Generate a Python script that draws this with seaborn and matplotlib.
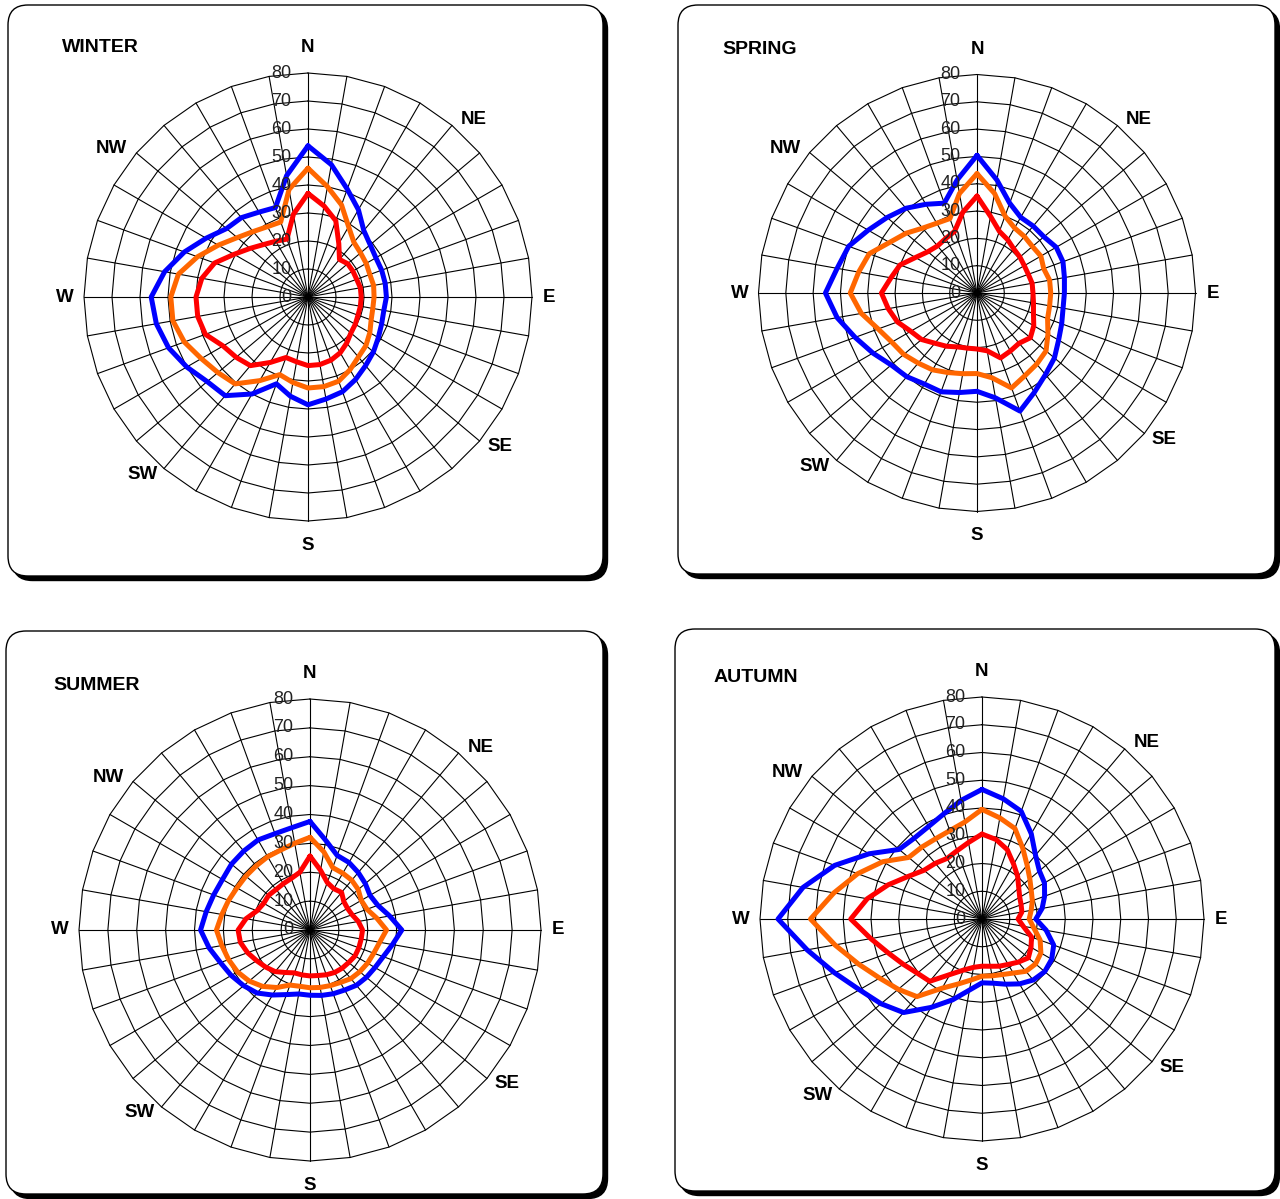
import numpy as np
import pandas as pd
import matplotlib
matplotlib.use("Agg")
import matplotlib.pyplot as plt
import matplotlib.transforms as mtransforms
from matplotlib.patches import FancyBboxPatch
import seaborn as sns

# directions every 10 degrees, clockwise from north
directions = np.arange(0, 360, 10)

# winter
winter_blue = [54, 48, 41, 36, 31, 29, 28, 28, 28, 28, 27.5, 28, 29, 30.5, 32, 34, 36, 37,
               38.5, 36, 33, 40, 46, 47, 50, 53, 55, 56, 52, 47, 42, 38, 37, 35, 34, 44]
winter_orange = [46, 40, 35, 29, 25.5, 24.5, 24, 23.5, 23.8, 23.6, 23.5, 24, 25.5, 27, 28, 30, 32, 32.5,
                 32.5, 31, 29.5, 34.5, 40.5, 42, 44, 47, 49, 49, 47, 42, 37, 33, 30.5, 29, 28.5, 39]
winter_red = [37, 33, 29, 22, 17.5, 18.5, 18.5, 18.5, 19, 19, 19, 19, 19.5, 20, 21.5, 23, 24, 24.5,
              24.5, 23.5, 23, 27, 32, 33.5, 35, 39, 40, 40, 38.5, 35.5, 30.5, 27, 24.5, 23, 22, 30]

# spring
spring_blue = [50.4, 42, 35, 32, 32, 32, 33.5, 33.5, 32.5, 32, 32, 33, 34.5, 37, 39, 42, 46, 39,
               36, 37, 38.5, 38.5, 40, 41, 44, 47.5, 52, 55.5, 52, 50, 46, 43, 40.5, 37.5, 35, 42]
spring_orange = [43.7, 37, 30, 27.5, 27, 26.5, 27, 26, 27, 27, 27, 27.5, 30, 33, 34, 35, 37, 31.5,
                 29.5, 30, 31, 32.5, 33.5, 35, 36, 38.5, 43, 46.4, 44, 42, 37, 34, 31, 29.5, 29, 37]
spring_red = [35.5, 28.5, 24, 22.5, 21, 20.5, 20, 20, 20.5, 20.5, 21, 22, 24, 25.5, 24, 24.5, 25.3, 21.5,
              20.5, 20.5, 21, 22.5, 24, 26.5, 28, 31, 33, 35, 32, 30, 26, 23.5, 22.5, 23, 24, 30]

# summer
summer_blue = [37.6, 31.5, 27.5, 27, 26, 25, 24, 25, 28, 31.8, 29, 27, 26, 25.5, 25, 24, 23.5, 23,
               22.6, 22.5, 23.8, 26, 28.5, 30, 31.5, 33, 35.5, 37.9, 36.5, 35.5, 35, 35.5, 35.7, 36, 35.5, 36]
summer_orange = [32.1, 27.5, 23, 22.7, 22.5, 21.8, 20.5, 21, 23.5, 26.5, 24.5, 23.5, 23, 22.5, 22, 21, 20.5, 20.2,
                 20, 19.8, 20.3, 23, 25.5, 27.5, 29, 30, 31, 32.4, 31, 30, 29.2, 29, 29, 29.3, 29.5, 30.5]
summer_red = [25.6, 21, 17.5, 16.5, 17, 15.3, 15, 15.5, 17, 18.2, 18, 18, 18, 17.5, 17.3, 17, 16.5, 16,
              15.9, 15.8, 15.8, 17, 18.8, 20, 21.3, 23, 24.5, 24.9, 22.5, 19.5, 18.5, 18.7, 18.3, 18.5, 19, 20.3]

# autumn
autumn_blue = [46.7, 44, 41.3, 35.5, 30, 27, 26, 24, 22, 19.4, 23.5, 27.5, 29, 29.5, 28.7, 27, 25, 23.5,
               23, 26, 31, 36.8, 44, 47.5, 51, 56.6, 64, 73.5, 65.5, 56.5, 47, 39, 38, 38.5, 40.3, 43.4]
autumn_orange = [39.5, 37, 34.7, 29.4, 25.3, 22.5, 20.5, 19.3, 18, 17, 19, 22.3, 24.5, 25.2, 24.6, 22.5, 21.3, 20.8,
                 20.6, 22.3, 24.9, 28.8, 36.5, 39.4, 42.6, 47.4, 53.8, 61.8, 54.2, 47.7, 41.3, 34.5, 33.8, 33.4, 33.9, 35.5]
autumn_red = [30.6, 29.1, 26.6, 22.8, 20, 17.3, 15.7, 15, 14.6, 13, 15.1, 19, 20.4, 21.8, 20.3, 18.9, 18.1, 17.3,
              17, 17.7, 19.6, 23.1, 29.3, 30.4, 32.7, 35.9, 40.7, 47.3, 42, 36, 30.7, 27.3, 26.2, 25.2, 26.2, 28]

seasons = ["WINTER", "SPRING", "SUMMER", "AUTUMN"]
season_data = {
    "WINTER": [winter_blue, winter_orange, winter_red],
    "SPRING": [spring_blue, spring_orange, spring_red],
    "SUMMER": [summer_blue, summer_orange, summer_red],
    "AUTUMN": [autumn_blue, autumn_orange, autumn_red],
}
series_names = ["high", "mid", "low"]
palette = {"high": "#0000FF", "mid": "#FF6600", "low": "#FF0000"}

rings = [0, 10, 20, 30, 40, 50, 60, 70, 80]
compass_labels = ["N", "NE", "E", "SE", "S", "SW", "W", "NW"]
compass_angles = [0, 43, 90, 128, 180, 223, 270, 307]
compass_gap = [25, 19, 17, 19, 24, 19, 19, 22]   # px beyond outer ring

# layout in image pixels
W, H = 1280, 1199
panels = {"WINTER": (8, 5, 603, 576), "SPRING": (678, 5, 1275, 574),
          "SUMMER": (6, 631, 603, 1194), "AUTUMN": (675, 629, 1275, 1191)}
centers = {"WINTER": (308, 297, 224), "SPRING": (977, 293, 218.5),
           "SUMMER": (310, 930, 231), "AUTUMN": (982, 919, 222)}
titles_at = {"WINTER": (62, 47), "SPRING": (722, 49), "SUMMER": (53, 685), "AUTUMN": (714, 678)}

sns.set_theme(style="white")
plt.rcParams["font.family"] = ["Liberation Sans", "DejaVu Sans"]

fig = plt.figure(figsize=(W / 100, H / 100), dpi=100)
bg = fig.add_axes([0, 0, 1, 1])
bg.set_xlim(0, W)
bg.set_ylim(H, 0)
bg.axis("off")

for name in seasons:
    x0, y0, x1, y1 = panels[name]
    shadow = FancyBboxPatch((x0 + 4.5, y0 + 4.5), x1 - x0, y1 - y0,
                            boxstyle="round,pad=0,rounding_size=20",
                            facecolor="black", edgecolor="black", lw=1)
    box = FancyBboxPatch((x0, y0), x1 - x0, y1 - y0,
                         boxstyle="round,pad=0,rounding_size=20",
                         facecolor="white", edgecolor="black", lw=1)
    bg.add_patch(shadow)
    bg.add_patch(box)
    tx, ty = titles_at[name]
    bg.text(tx, ty, name, ha="left", va="center", fontsize=14, fontweight="bold", color="black")

theta = np.deg2rad(directions)
closed = np.append(theta, theta[0])
shift = mtransforms.ScaledTranslation(-16.5 / 100, 0, fig.dpi_scale_trans)

for name in seasons:
    cx, cy, R = centers[name]
    ax = fig.add_axes([(cx - R) / W, (H - cy - R) / H, 2 * R / W, 2 * R / H], projection="polar")
    ax.set_facecolor("none")
    ax.set_theta_zero_location("N")
    ax.set_theta_direction(-1)

    # polygon grid like a spreadsheet radar chart
    for r in rings[1:]:
        ax.plot(closed, [r] * len(closed), color="black", lw=0.8, zorder=1, clip_on=False)
    for t in theta:
        ax.plot([t, t], [0, 80], color="black", lw=0.8, zorder=1, clip_on=False)

    values = season_data[name]
    df = pd.DataFrame({
        "theta": np.tile(closed, len(series_names)),
        "value": np.concatenate([np.append(v, v[0]) for v in values]),
        "series": np.repeat(series_names, len(closed)),
    })
    sns.lineplot(data=df, x="theta", y="value", hue="series", palette=palette,
                 hue_order=series_names, sort=False, estimator=None, lw=3.6,
                 legend=False, ax=ax, zorder=3)

    ax.set_xlim(0, 2 * np.pi)
    ax.set_ylim(0, 80)
    ax.grid(False)
    ax.set_xticks([])
    ax.set_yticks([])
    ax.set_xlabel("")
    ax.set_ylabel("")
    ax.spines["polar"].set_visible(False)

    for r in rings:
        ax.text(0, r, str(r), transform=ax.transData + shift, ha="right", va="center",
                fontsize=13, color="#222222", zorder=4)

    for lab, ang, gap in zip(compass_labels, compass_angles, compass_gap):
        ax.text(np.deg2rad(ang), 80 * (R + gap) / R, lab, ha="center", va="center",
                fontsize=13.5, fontweight="bold", color="black", clip_on=False)

fig.savefig("out.png", dpi=100)
